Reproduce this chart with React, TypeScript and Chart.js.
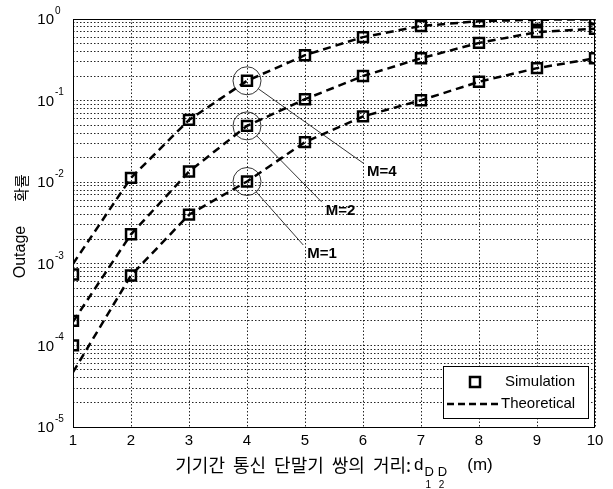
import React, { useEffect, useRef } from 'react';
import { Chart, registerables } from 'chart.js';

Chart.register(...registerables);

// ---- data ----
const distances = [1, 2, 3, 4, 5, 6, 7, 8, 9, 10];
const xTickLabels = ['1', '2', '3', '4', '5', '6', '7', '8', '9', '10'];
const yTickExponents = [0, -1, -2, -3, -4, -5];

const simM1 = [1.0e-4, 7.2e-4, 0.004, 0.0102, 0.031, 0.064, 0.101, 0.17, 0.25, 0.33];
const simM2 = [2.0e-4, 2.3e-3, 0.0135, 0.049, 0.104, 0.2, 0.33, 0.51, 0.69, 0.76];
const simM4 = [7.4e-4, 0.0113, 0.058, 0.175, 0.36, 0.6, 0.82, 0.94, 0.98, 0.99];

const theoM1 = [4.7e-5, 7.2e-4, 0.004, 0.0102, 0.031, 0.064, 0.101, 0.17, 0.25, 0.33];
const theoM2 = [1.95e-4, 2.3e-3, 0.0135, 0.049, 0.104, 0.2, 0.33, 0.51, 0.69, 0.76];
const theoM4 = [1.0e-3, 0.0113, 0.058, 0.175, 0.36, 0.6, 0.82, 0.94, 0.98, 0.99];

const seriesLabels = ['M=1', 'M=2', 'M=4'];
const legendLabels = ['Simulation', 'Theoretical'];
const xTitleWords = ['기기간', '통신', '단말기', '쌍의', '거리:'];
const yTitleWords = ['Outage', '확률'];

// callout: highlighted point index, and where the leader line ends (data coords)
const calloutIndex = 3;
const calloutEndX = [4.97, 5.29, 6.0];
const calloutEndY = [0.0017, 0.0057, 0.0172];

const LATIN = '"Liberation Sans", Arial, sans-serif';
const KOREAN = '"Noto Sans CJK KR", "Noto Sans", sans-serif';

const toPts = (ys: number[]) => distances.map((x, i) => ({ x, y: ys[i] }));

const decorPlugin = {
  id: 'decor',
  beforeDatasetsDraw(chart: any) {
    const { ctx, chartArea: a } = chart;
    ctx.save();
    ctx.strokeStyle = '#000';
    ctx.lineWidth = 1;
    ctx.setLineDash([]);
    ctx.strokeRect(a.left + 0.5, a.top + 0.5, a.right - a.left - 1, a.bottom - a.top);
    ctx.restore();
  },
  afterDraw(chart: any) {
    const { ctx, chartArea: a, scales } = chart;
    const xs = scales.x;
    const ys = scales.y;
    ctx.save();
    ctx.fillStyle = '#000';
    ctx.strokeStyle = '#000';

    // callouts
    const sims = [simM1, simM2, simM4];
    const r = 14;
    sims.forEach((s, i) => {
      const cx = xs.getPixelForValue(distances[calloutIndex]);
      const cy = ys.getPixelForValue(s[calloutIndex]);
      const ex = xs.getPixelForValue(calloutEndX[i]);
      const ey = ys.getPixelForValue(calloutEndY[i]);
      ctx.lineWidth = 0.8;
      ctx.setLineDash([]);
      ctx.beginPath();
      ctx.arc(cx, cy, r, 0, Math.PI * 2);
      ctx.stroke();
      const ang = Math.atan2(ey - cy, ex - cx);
      ctx.beginPath();
      ctx.moveTo(cx + r * Math.cos(ang), cy + r * Math.sin(ang));
      ctx.lineTo(ex, ey);
      ctx.stroke();
      ctx.font = `bold 15px ${LATIN}`;
      ctx.textAlign = 'left';
      ctx.textBaseline = 'middle';
      ctx.fillText(seriesLabels[i], ex + 4, ey + 9);
    });

    // legend
    const lx = a.right - 152, ly = a.bottom - 61, lw = 145, lh = 52;
    ctx.fillStyle = '#fff';
    ctx.fillRect(lx, ly, lw, lh);
    ctx.lineWidth = 1;
    ctx.strokeStyle = '#000';
    ctx.strokeRect(lx + 0.5, ly + 0.5, lw, lh);
    ctx.lineWidth = 2.5;
    ctx.strokeRect(lx + 27, ly + 11, 10, 10);
    ctx.setLineDash([7, 4]);
    ctx.beginPath();
    ctx.moveTo(lx + 4, ly + 38);
    ctx.lineTo(lx + 55, ly + 38);
    ctx.stroke();
    ctx.setLineDash([]);
    ctx.fillStyle = '#000';
    ctx.font = `15px ${LATIN}`;
    ctx.textAlign = 'left';
    ctx.textBaseline = 'middle';
    ctx.fillText(legendLabels[0], lx + 62, ly + 16);
    ctx.fillText(legendLabels[1], lx + 58, ly + 38);

    // x tick labels
    ctx.font = `15px ${LATIN}`;
    ctx.textAlign = 'center';
    ctx.textBaseline = 'middle';
    distances.forEach((d, i) => {
      ctx.fillText(xTickLabels[i], xs.getPixelForValue(d), a.bottom + 14);
    });

    // y tick labels
    yTickExponents.forEach((e) => {
      const py = ys.getPixelForValue(Math.pow(10, e));
      ctx.font = `15px ${LATIN}`;
      ctx.textAlign = 'right';
      ctx.textBaseline = 'middle';
      ctx.fillText('10', a.left - 19, py + 1);
      ctx.font = `10px ${LATIN}`;
      ctx.textAlign = 'left';
      ctx.fillText(String(e), a.left - 18, py - 8);
    });

    // x title
    const ty = a.bottom + 38;
    const gap = 8;
    ctx.textBaseline = 'middle';
    ctx.textAlign = 'left';
    ctx.font = `18px ${KOREAN}`;
    const wWords = xTitleWords.map((w) => ctx.measureText(w).width);
    const wK = wWords.reduce((p, c) => p + c, 0) + gap * (xTitleWords.length - 1) + 3;
    ctx.font = `17px ${LATIN}`;
    const wd = ctx.measureText('d').width;
    ctx.font = `13px ${LATIN}`;
    const wD = ctx.measureText('D').width;
    ctx.font = `17px ${LATIN}`;
    const wm = ctx.measureText('(m)').width;
    const total = wK + wd + 1 + 2 * (wD + 4) + 16 + wm;
    let tx = (a.left + a.right) / 2 - total / 2;
    ctx.font = `18px ${KOREAN}`;
    xTitleWords.forEach((w, i) => {
      ctx.fillText(w, tx, ty);
      tx += wWords[i] + (i < xTitleWords.length - 1 ? gap : 3);
    });
    ctx.font = `17px ${LATIN}`;
    ctx.fillText('d', tx, ty);
    tx += wd + 1;
    ['1', '2'].forEach((n) => {
      ctx.font = `13px ${LATIN}`;
      ctx.fillText('D', tx, ty + 7);
      ctx.font = `10px ${LATIN}`;
      ctx.fillText(n, tx + 1, ty + 20);
      tx += wD + 4;
    });
    tx += 16;
    ctx.font = `17px ${LATIN}`;
    ctx.fillText('(m)', tx, ty);

    // y title
    ctx.save();
    ctx.translate(21, 226);
    ctx.rotate(-Math.PI / 2);
    ctx.textAlign = 'center';
    ctx.textBaseline = 'middle';
    ctx.font = `16px ${LATIN}`;
    ctx.fillText(yTitleWords[0], -26, 0);
    ctx.font = `15px ${KOREAN}`;
    ctx.fillText(yTitleWords[1], 38, 0);
    ctx.restore();

    ctx.restore();
  },
};

export default function App() {
  const ref = useRef<HTMLCanvasElement | null>(null);
  useEffect(() => {
    document.body.style.margin = '0';
    if (!ref.current) return;
    const simStyle = {
      showLine: false,
      pointStyle: 'rect' as const,
      pointRadius: 7,
      pointBorderWidth: 2.5,
      pointBorderColor: '#000',
      pointBackgroundColor: 'rgba(0,0,0,0)',
      borderColor: '#000',
    };
    const theoStyle = {
      borderColor: '#000',
      borderWidth: 2.5,
      borderDash: [8, 5],
      pointRadius: 0,
      tension: 0,
      fill: false,
    };
    const chart = new Chart(ref.current, {
      type: 'line',
      data: {
        datasets: [
          { label: 'Theoretical M=1', data: toPts(theoM1), ...theoStyle },
          { label: 'Theoretical M=2', data: toPts(theoM2), ...theoStyle },
          { label: 'Theoretical M=4', data: toPts(theoM4), ...theoStyle },
          { label: 'Simulation M=1', data: toPts(simM1), ...simStyle },
          { label: 'Simulation M=2', data: toPts(simM2), ...simStyle },
          { label: 'Simulation M=4', data: toPts(simM4), ...simStyle },
        ],
      },
      options: {
        responsive: false,
        animation: false,
        devicePixelRatio: 1,
        layout: { padding: { left: 73, right: 18, top: 19, bottom: 62 } },
        plugins: { legend: { display: false }, tooltip: { enabled: false } },
        scales: {
          x: {
            type: 'linear',
            min: 1,
            max: 10,
            ticks: { display: false, stepSize: 1 },
            grid: { drawTicks: false, color: 'rgba(0,0,0,0.85)', lineWidth: 1 },
            border: { display: false, dash: [1.5, 2] },
          },
          y: {
            type: 'logarithmic',
            min: 1e-5,
            max: 1,
            ticks: { display: false },
            afterBuildTicks: (scale: any) => {
              const t: { value: number }[] = [];
              for (let e = -5; e < 0; e++) {
                for (let k = 1; k <= 9; k++) t.push({ value: k * Math.pow(10, e) });
              }
              t.push({ value: 1 });
              scale.ticks = t;
            },
            grid: { drawTicks: false, color: 'rgba(0,0,0,0.85)', lineWidth: 1 },
            border: { display: false, dash: [1.5, 2] },
          },
        },
      },
      plugins: [decorPlugin],
    });
    return () => chart.destroy();
  }, []);
  return <canvas ref={ref} width={613} height={489} style={{ display: 'block', width: 613, height: 489 }} />;
}
